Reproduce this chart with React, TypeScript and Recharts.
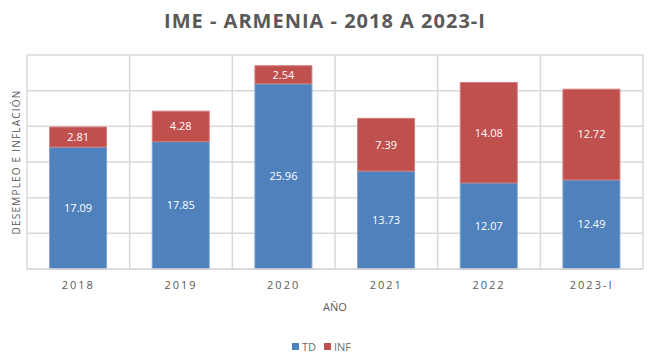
import React from "react";
import { BarChart, Bar, XAxis, YAxis, CartesianGrid, LabelList, Legend } from "recharts";

const categories = ["2018", "2019", "2020", "2021", "2022", "2023-I"];
const tdValues = [17.09, 17.85, 25.96, 13.73, 12.07, 12.49];
const infValues = [2.81, 4.28, 2.54, 7.39, 14.08, 12.72];
const yTicks = [0, 5, 10, 15, 20, 25, 30];
const yMax = 30;

const data = categories.map((c, i) => ({ year: c, TD: tdValues[i], INF: infValues[i] }));

const BLUE = "#4F81BD";
const RED = "#C0504D";
const GRID = "#D9D9D9";
const TEXT = "#595959";
const FONT = "'Open Sans', 'Liberation Sans', sans-serif";

const LegendContent = () => (
  <div style={{ display: "flex", justifyContent: "center", alignItems: "center", fontFamily: FONT, fontSize: 11, color: "#6f6f6f", paddingTop: 20 }}>
    <span style={{ display: "inline-block", width: 7, height: 7, background: BLUE, marginRight: 3 }} />
    <span style={{ marginRight: 8 }}>TD</span>
    <span style={{ display: "inline-block", width: 7, height: 7, background: RED, marginRight: 3 }} />
    <span>INF</span>
  </div>
);

const vGen = (props: any) => {
  const off = props.offset;
  const n = categories.length;
  const out: number[] = [];
  for (let i = 0; i <= n; i++) out.push(off.left + (off.width * i) / n);
  return out;
};

const hGen = (props: any) => {
  const ys = props.yAxis;
  if (ys && typeof ys.scale === "function") return yTicks.map((t) => ys.scale(t));
  if (ys && ys.scale && typeof ys.scale.map === "function") return yTicks.map((t) => ys.scale.map(t));
  const off = props.offset;
  return yTicks.map((t) => off.top + off.height * (1 - t / yMax));
};

export default function App() {
  return (
    <div style={{ position: "absolute", left: 0, top: 0, width: 650, height: 364, background: "#fff" }}>
      <div style={{ position: "absolute", top: 7, left: 0, width: 650, textAlign: "center", fontFamily: FONT, fontWeight: 700, fontSize: 20, color: TEXT, letterSpacing: 1 }}>
        IME - ARMENIA - 2018 A 2023-I
      </div>
      <BarChart width={650} height={364} data={data} margin={{ top: 55, right: 7, bottom: 0, left: 0 }} barCategoryGap="22%">
        <CartesianGrid stroke={GRID} strokeWidth={1.5} verticalCoordinatesGenerator={vGen} horizontalCoordinatesGenerator={hGen} />
        <XAxis
          dataKey="year"
          tickLine={false}
          axisLine={{ stroke: GRID, strokeWidth: 1.5 }}
          tick={{ fill: TEXT, fontSize: 11, fontFamily: FONT, letterSpacing: 2 }}
          tickMargin={6}
          height={50}
          label={{ value: "AÑO", position: "insideBottom", offset: 8, fill: TEXT, fontSize: 11, fontFamily: FONT }}
        />
        <YAxis
          domain={[0, yMax]}
          ticks={yTicks}
          tick={false}
          tickLine={false}
          axisLine={false}
          width={27}
          label={{ value: "DESEMPLEO E INFLACIÓN", angle: -90, position: "insideLeft", offset: 16, fill: TEXT, fontSize: 10, fontFamily: FONT, letterSpacing: 1.2, style: { textAnchor: "middle" } }}
        />
        <Legend verticalAlign="bottom" height={45} content={<LegendContent />} />
        <Bar dataKey="TD" stackId="a" fill={BLUE} stroke="#7FA3D3" strokeWidth={1} isAnimationActive={false}>
          <LabelList dataKey="TD" position="center" fill="#fff" fontSize={11} fontFamily={FONT} />
        </Bar>
        <Bar dataKey="INF" stackId="a" fill={RED} stroke="#D27F7D" strokeWidth={1} isAnimationActive={false}>
          <LabelList dataKey="INF" position="center" fill="#fff" fontSize={11} fontFamily={FONT} />
        </Bar>
      </BarChart>
    </div>
  );
}
